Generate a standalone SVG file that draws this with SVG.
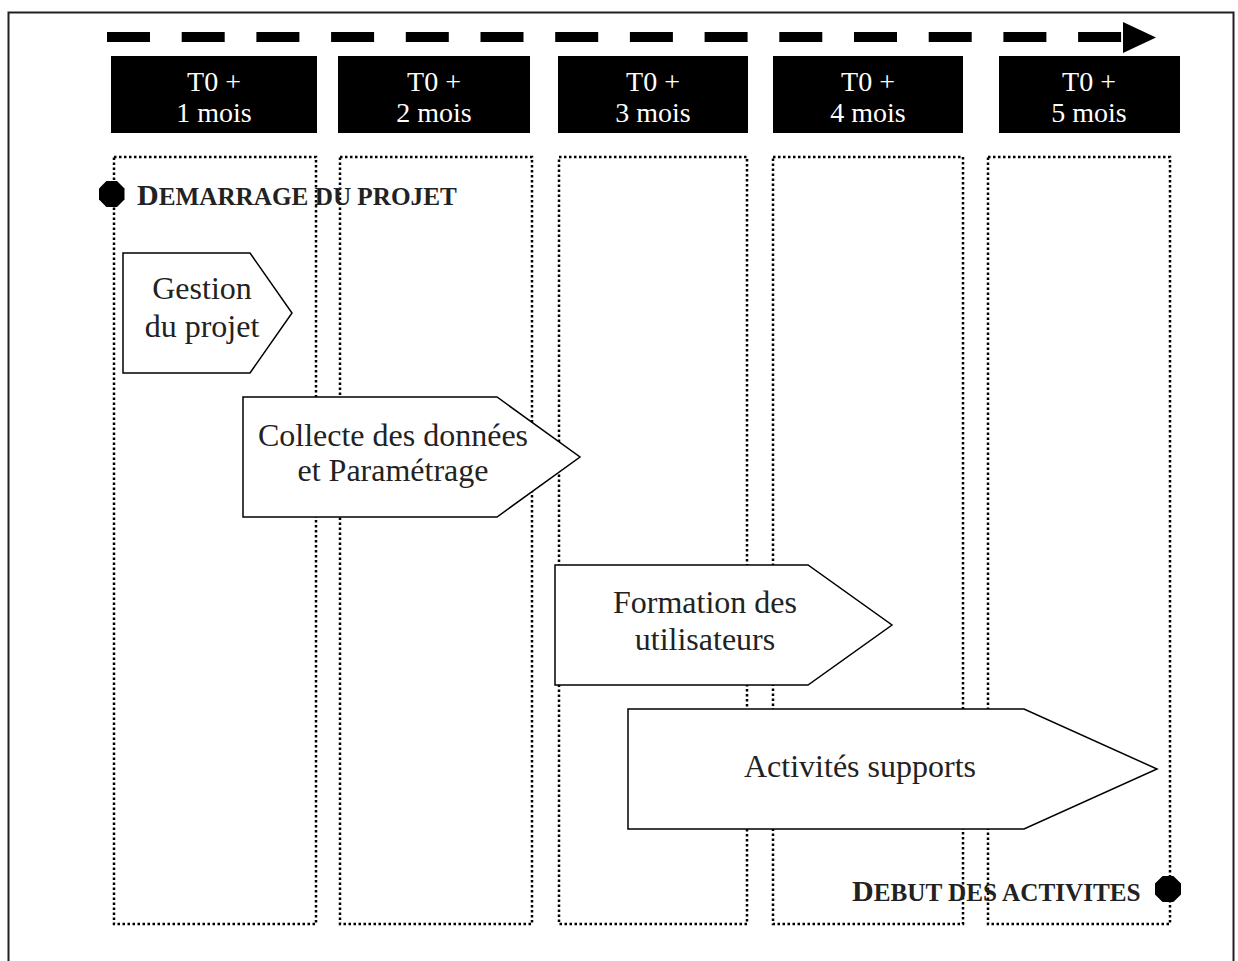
<svg xmlns="http://www.w3.org/2000/svg" width="1238" height="961" viewBox="0 0 1238 961">
<style>
.hdr{fill:#000}
.hdrt{fill:#fff;font-family:"Liberation Serif",serif;font-size:28px;text-anchor:middle}
.col{fill:none;stroke:#000;stroke-width:2.5;stroke-dasharray:2.5 2.5}
.shape{fill:#fff;stroke:#000;stroke-width:1.5}
.lbl{fill:#222;font-family:"Liberation Serif",serif;font-size:32px;text-anchor:middle}
.ms{fill:#222;font-family:"Liberation Serif",serif;font-weight:bold;font-size:25.2px}
.big{font-size:30px}
.oct{fill:#000}
</style>
<rect x="8.5" y="12.5" width="1225" height="1000" fill="#fff" stroke="#231f20" stroke-width="2"/>
<g id="timeline">
<line x1="107" y1="37" x2="1122" y2="37" stroke="#000" stroke-width="10" stroke-dasharray="43 31.7"/>
<polygon points="1123,22 1156,37.5 1123,53" fill="#000"/>
</g>
<g id="columns">
<rect id="col1" class="col" x="114" y="157" width="202" height="767"/>
<rect id="col2" class="col" x="340" y="157" width="192" height="767"/>
<rect id="col3" class="col" x="559" y="157" width="188" height="767"/>
<rect id="col4" class="col" x="773" y="157" width="190" height="767"/>
<rect id="col5" class="col" x="988" y="157" width="182" height="767"/>
</g>
<g id="h1"><rect class="hdr" x="111" y="56" width="206" height="77"/><text class="hdrt" x="214" y="91">T0 +</text><text class="hdrt" x="214" y="122">1 mois</text></g>
<g id="h2"><rect class="hdr" x="338" y="56" width="192" height="77"/><text class="hdrt" x="434" y="91">T0 +</text><text class="hdrt" x="434" y="122">2 mois</text></g>
<g id="h3"><rect class="hdr" x="558" y="56" width="190" height="77"/><text class="hdrt" x="653" y="91">T0 +</text><text class="hdrt" x="653" y="122">3 mois</text></g>
<g id="h4"><rect class="hdr" x="773" y="56" width="190" height="77"/><text class="hdrt" x="868" y="91">T0 +</text><text class="hdrt" x="868" y="122">4 mois</text></g>
<g id="h5"><rect class="hdr" x="999" y="56" width="181" height="77"/><text class="hdrt" x="1089" y="91">T0 +</text><text class="hdrt" x="1089" y="122">5 mois</text></g>
<g id="start">
<polygon class="oct" points="106.4,181 117,181 124.5,188.5 124.5,199.5 117,207 106.4,207 99,199.5 99,188.5"/>
<text class="ms" x="137" y="205"><tspan class="big">D</tspan>EMARRAGE DU PROJET</text>
</g>
<g id="gestion">
<polygon class="shape" points="123,253 250,253 292,313 250,373 123,373"/>
<text class="lbl" x="202" y="299">Gestion</text>
<text class="lbl" x="202" y="337">du projet</text>
</g>
<g id="collecte">
<polygon class="shape" points="243,397 497,397 580,457 497,517 243,517"/>
<text class="lbl" x="393" y="446">Collecte des données</text>
<text class="lbl" x="393" y="481">et Paramétrage</text>
</g>
<g id="formation">
<polygon class="shape" points="555,565 808,565 892,625 808,685 555,685"/>
<text class="lbl" x="705" y="613">Formation des</text>
<text class="lbl" x="705" y="650">utilisateurs</text>
</g>
<g id="activites">
<polygon class="shape" points="628,709 1024,709 1157,769 1024,829 628,829"/>
<text class="lbl" x="860" y="777">Activités supports</text>
</g>
<g id="end">
<text class="ms" x="852" y="901"><tspan class="big">D</tspan>EBUT DES ACTIVITES</text>
<polygon class="oct" points="1162.6,876 1173.4,876 1181,883.5 1181,894.5 1173.4,902 1162.6,902 1155,894.5 1155,883.5"/>
</g>
</svg>
